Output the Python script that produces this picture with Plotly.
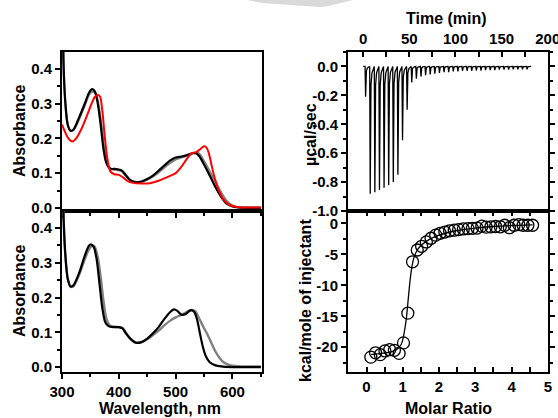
import plotly.graph_objects as go

W, H = 558, 418
FONT = "Liberation Sans, Arial, sans-serif"

# ---------------- UV-vis spectra (top-left) ----------------
top_black_wl = [301, 303, 306, 310, 315, 320, 330, 340, 348, 353, 358, 363, 368, 373, 378, 385, 395, 405, 412, 420, 430, 440, 450, 460, 470, 480, 490, 500, 510, 520, 530, 536, 542, 550, 560, 570, 580, 590, 600, 610, 625, 650]
top_black_abs = [0.60, 0.40, 0.30, 0.24, 0.222, 0.225, 0.26, 0.30, 0.333, 0.342, 0.335, 0.30, 0.24, 0.17, 0.13, 0.113, 0.112, 0.108, 0.095, 0.08, 0.074, 0.076, 0.083, 0.093, 0.107, 0.122, 0.136, 0.145, 0.148, 0.152, 0.158, 0.157, 0.148, 0.125, 0.093, 0.06, 0.032, 0.012, 0.004, 0.001, 0.0, 0.0]

top_gray_wl = [301, 303, 306, 310, 315, 320, 330, 340, 348, 354, 359, 364, 369, 374, 379, 386, 395, 405, 412, 420, 430, 440, 450, 460, 470, 480, 490, 500, 510, 520, 530, 540, 550, 560, 570, 580, 590, 600, 610, 625, 650]
top_gray_abs = [0.60, 0.40, 0.30, 0.24, 0.222, 0.224, 0.255, 0.295, 0.327, 0.335, 0.33, 0.30, 0.245, 0.175, 0.13, 0.112, 0.11, 0.105, 0.093, 0.08, 0.074, 0.075, 0.081, 0.09, 0.102, 0.116, 0.129, 0.139, 0.145, 0.15, 0.156, 0.158, 0.135, 0.105, 0.075, 0.045, 0.02, 0.007, 0.002, 0.001, 0.001]

top_red_wl = [300, 305, 310, 318, 325, 335, 345, 352, 358, 363, 367, 371, 375, 380, 385, 392, 400, 408, 415, 425, 440, 455, 470, 480, 490, 500, 510, 520, 528, 535, 542, 549, 553, 558, 563, 568, 575, 585, 595, 610, 650]
top_red_abs = [0.24, 0.22, 0.203, 0.191, 0.20, 0.23, 0.27, 0.30, 0.32, 0.325, 0.32, 0.28, 0.21, 0.14, 0.105, 0.097, 0.095, 0.087, 0.078, 0.072, 0.07, 0.071, 0.078, 0.085, 0.092, 0.10, 0.118, 0.142, 0.157, 0.16, 0.167, 0.177, 0.176, 0.16, 0.125, 0.09, 0.055, 0.022, 0.008, 0.002, 0.001]

# ---------------- UV-vis spectra (bottom-left) ----------------
bot_black_wl = [301, 303, 306, 310, 315, 320, 330, 340, 347, 351, 356, 361, 366, 371, 376, 382, 390, 400, 406, 412, 420, 430, 440, 450, 460, 470, 480, 490, 497, 503, 510, 517, 523, 528, 533, 538, 543, 548, 553, 560, 570, 580, 600, 650]
bot_black_abs = [0.60, 0.42, 0.32, 0.255, 0.232, 0.235, 0.27, 0.32, 0.348, 0.353, 0.345, 0.31, 0.24, 0.17, 0.13, 0.118, 0.115, 0.115, 0.112, 0.098, 0.082, 0.07, 0.072, 0.082, 0.097, 0.115, 0.138, 0.158, 0.166, 0.162, 0.151, 0.152, 0.16, 0.164, 0.158, 0.135, 0.095, 0.058, 0.032, 0.014, 0.005, 0.002, 0.0, 0.0]

bot_gray_wl = [301, 303, 306, 310, 315, 320, 330, 340, 348, 354, 358, 363, 368, 373, 378, 384, 392, 400, 407, 413, 420, 430, 440, 450, 460, 470, 480, 490, 500, 510, 518, 525, 530, 535, 540, 545, 550, 555, 560, 565, 570, 578, 585, 595, 610, 630, 650]
bot_gray_abs = [0.60, 0.42, 0.32, 0.255, 0.232, 0.232, 0.265, 0.31, 0.34, 0.35, 0.345, 0.315, 0.26, 0.19, 0.14, 0.12, 0.116, 0.115, 0.112, 0.098, 0.083, 0.071, 0.072, 0.08, 0.092, 0.105, 0.12, 0.133, 0.143, 0.15, 0.157, 0.163, 0.164, 0.16, 0.145, 0.128, 0.112, 0.097, 0.08, 0.062, 0.045, 0.025, 0.013, 0.006, 0.003, 0.002, 0.002]

# ---------------- ITC raw thermogram (top-right) ----------------
inj_time = [2, 7, 12, 17, 22, 27, 32, 37, 42, 47, 52, 57, 62, 67, 72, 77, 82, 87, 92, 97, 102, 107, 112, 117, 122, 127, 132, 137, 142, 147, 152, 157, 162, 167, 172, 177]
inj_depth = [-0.21, -0.88, -0.87, -0.855, -0.84, -0.82, -0.80, -0.75, -0.51, -0.30, -0.11, -0.085, -0.07, -0.06, -0.055, -0.05, -0.045, -0.04, -0.04, -0.035, -0.035, -0.03, -0.03, -0.03, -0.028, -0.028, -0.025, -0.025, -0.025, -0.022, -0.022, -0.022, -0.02, -0.02, -0.02, -0.02]
trace_start, trace_end = 0.0, 181.0
# peak shape template (time offset in min, fraction of peak depth)
peak_dt = [0.0, 0.6, 1.4, 2.5, 4.0, 5.0]
peak_frac = [0.0, 1.0, 0.15, 0.05, 0.01, 0.0]

# ---------------- ITC integrated heats (bottom-right) ----------------
molar_ratio = [0.12, 0.25, 0.38, 0.51, 0.64, 0.77, 0.90, 1.02, 1.14, 1.27, 1.40, 1.52, 1.65, 1.78, 1.91, 2.03, 2.16, 2.29, 2.42, 2.54, 2.67, 2.80, 2.92, 3.05, 3.18, 3.30, 3.43, 3.56, 3.69, 3.81, 3.94, 4.07, 4.20, 4.32, 4.45, 4.58]
heat = [-21.6, -20.9, -21.2, -20.6, -20.4, -20.5, -21.0, -19.3, -14.5, -6.2, -4.3, -3.7, -3.0, -2.4, -1.9, -1.6, -1.4, -1.2, -1.1, -1.0, -0.9, -0.85, -0.8, -0.75, -0.45, -0.6, -0.55, -0.5, -0.55, -0.3, -0.7, -0.3, -0.2, -0.3, -0.3, -0.3]
fit_mr = [0.12, 0.4, 0.7, 0.85, 0.95, 1.0, 1.05, 1.1, 1.15, 1.2, 1.25, 1.3, 1.4, 1.5, 1.7, 2.0, 2.5, 3.0, 3.5, 4.0, 4.58]
fit_heat = [-21.2, -21.0, -20.7, -20.3, -19.6, -18.8, -17.3, -15.3, -12.3, -9.3, -7.1, -5.7, -4.3, -3.6, -2.7, -1.9, -1.15, -0.75, -0.5, -0.35, -0.25]

# tick labels
abs_ticks = [0.0, 0.1, 0.2, 0.3, 0.4]
abs_ticktext = ["0.0", "0.1", "0.2", "0.3", "0.4"]
wl_ticks = [300, 400, 500, 600]
wl_ticktext = ["300", "400", "500", "600"]
time_ticks = [0, 50, 100, 150, 200]
time_ticktext = ["0", "50", "100", "150", "200"]
ucal_ticks = [0.0, -0.2, -0.4, -0.6, -0.8, -1.0]
ucal_ticktext = ["0.0", "-0.2", "-0.4", "-0.6", "-0.8", "-1.0"]
mr_ticks = [0, 1, 2, 3, 4, 5]
mr_ticktext = ["0", "1", "2", "3", "4", "5"]
kcal_ticks = [0, -5, -10, -15, -20]
kcal_ticktext = ["0", "-5", "-10", "-15", "-20"]

# build thermogram line from injection data
therm_t = [trace_start]
therm_v = [0.0]
for t0, d in zip(inj_time, inj_depth):
    for dt, f in zip(peak_dt, peak_frac):
        therm_t.append(t0 + dt)
        therm_v.append(d * f)
therm_t.append(trace_end)
therm_v.append(0.0)

fig = go.Figure()

def spec(x, y, color, width, xa, ya):
    fig.add_trace(go.Scatter(x=x, y=y, mode="lines", xaxis=xa, yaxis=ya,
                             line=dict(color=color, width=width, shape="spline", smoothing=0.8),
                             hoverinfo="skip"))

spec(top_gray_wl, top_gray_abs, "#808080", 2.2, "x", "y")
spec(top_black_wl, top_black_abs, "#000000", 2.2, "x", "y")
spec(top_red_wl, top_red_abs, "#ff0000", 2.0, "x", "y")
spec(bot_gray_wl, bot_gray_abs, "#808080", 2.4, "x2", "y2")
spec(bot_black_wl, bot_black_abs, "#000000", 2.2, "x2", "y2")

fig.add_trace(go.Scatter(x=therm_t, y=therm_v, mode="lines", xaxis="x3", yaxis="y3",
                         line=dict(color="black", width=1.3), hoverinfo="skip"))
fig.add_trace(go.Scatter(x=fit_mr, y=fit_heat, mode="lines", xaxis="x4", yaxis="y4",
                         line=dict(color="black", width=1.3, shape="spline", smoothing=0.6), hoverinfo="skip"))
fig.add_trace(go.Scatter(x=molar_ratio, y=heat, mode="markers", xaxis="x4", yaxis="y4",
                         marker=dict(symbol="circle-open", size=12, color="black", line=dict(width=1.3)),
                         hoverinfo="skip"))

px = lambda v: v / W
py = lambda v: 1 - v / H
LX = [px(62), px(262)]
RX = [px(348), px(548)]
TY = [py(211), py(52)]
BY = [py(372), py(211)]

tickfont = dict(family=FONT, size=15, color="black", weight="bold")
base = dict(showline=True, linewidth=2, linecolor="black", showgrid=False, zeroline=False, automargin=False,
            tickwidth=2, ticklen=5, tickcolor="black", tickfont=tickfont, tickmode="array",
            ticklabeloverflow="allow")

def minor(d, t0, ticks, ln=3):
    return dict(tickmode="linear", dtick=d, tick0=t0, ticks=ticks, ticklen=ln, tickwidth=2, tickcolor="black", showgrid=False)

fig.update_layout(
    width=W, height=H, margin=dict(l=0, r=0, t=0, b=0, autoexpand=False),
    paper_bgcolor="white", plot_bgcolor="white", showlegend=False,
    xaxis=dict(base, domain=LX, anchor="y", range=[300, 652], tickvals=wl_ticks, ticktext=wl_ticktext,
               showticklabels=False, ticks="outside", mirror=True, minor=minor(50, 300, "outside")),
    yaxis=dict(base, domain=TY, anchor="x", range=[-0.009, 0.449], tickvals=abs_ticks, ticktext=abs_ticktext,
               ticks="outside", mirror=True, minor=minor(0.05, 0, "outside")),
    xaxis2=dict(base, domain=LX, anchor="y2", range=[300, 652], tickvals=wl_ticks, ticktext=wl_ticktext,
                ticks="outside", mirror=True, minor=minor(50, 300, "outside")),
    yaxis2=dict(base, domain=BY, anchor="x2", range=[-0.014, 0.449], tickvals=abs_ticks, ticktext=abs_ticktext,
                ticks="outside", mirror=True, minor=minor(0.05, 0, "outside")),
    xaxis3=dict(base, domain=RX, anchor="y3", side="top", range=[-16.5, 200.3], tickvals=time_ticks,
                ticktext=time_ticktext, ticks="inside", mirror=True, minor=minor(25, 0, "inside", 5)),
    yaxis3=dict(base, domain=TY, anchor="x3", range=[-1.0, 0.1], tickvals=ucal_ticks, ticktext=ucal_ticktext,
                ticks="outside", mirror="ticks", minor=minor(0.1, 0, "outside")),
    xaxis4=dict(base, domain=RX, anchor="y4", range=[-0.51, 5.005], tickvals=mr_ticks, ticktext=mr_ticktext,
                ticks="inside", mirror="ticks", minor=minor(0.5, 0, "inside", 5)),
    yaxis4=dict(base, domain=BY, anchor="x4", range=[-24, 2], tickvals=kcal_ticks, ticktext=kcal_ticktext,
                ticks="outside", mirror="ticks", minor=minor(2.5, 0, "outside")),
)

def label(text, x, y, angle=0, size=16):
    fig.add_annotation(text="<b>" + text + "</b>", x=px(x), y=py(y), xref="paper", yref="paper",
                       showarrow=False, textangle=angle, xanchor="center", yanchor="middle",
                       font=dict(family=FONT, size=size, color="black"))

label("Absorbance", 19, 131, -90)
label("Absorbance", 19, 291, -90)
label("Wavelength, nm", 160, 408)
label("Time (min)", 446, 18)
label("µcal/sec", 310, 135, -90)
label("kcal/mole of injectant", 305, 301, -90)
label("Molar Ratio", 448, 408)

# faint watermark fragment at top
fig.add_shape(type="path", xref="paper", yref="paper", layer="below",
              path="M {},{} L {},{} L {},{} L {},{} L {},{} Z".format(
                  px(246.7), py(0), px(262), py(3), px(320), py(7), px(326), py(6.5), px(353), py(0)),
              fillcolor="#d9d9d9", line=dict(width=0))

fig.write_html("out.html", config={"displayModeBar": False},
               post_script="document.body.style.margin='0';document.body.style.overflow='hidden';")
